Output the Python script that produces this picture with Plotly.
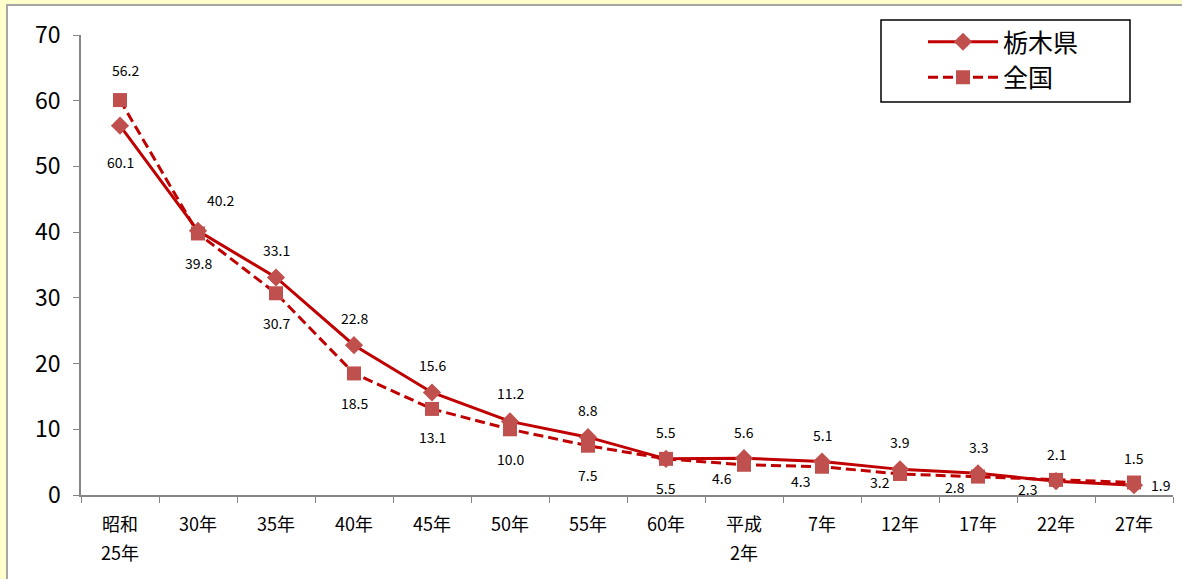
import plotly.graph_objects as go

# ---- data ----
categories = ["昭和<br>25年", "30年", "35年", "40年", "45年", "50年", "55年", "60年",
              "平成<br>2年", "7年", "12年", "17年", "22年", "27年"]
tochigi = [56.2, 40.2, 33.1, 22.8, 15.6, 11.2, 8.8, 5.5, 5.6, 5.1, 3.9, 3.3, 2.1, 1.5]
zenkoku = [60.1, 39.8, 30.7, 18.5, 13.1, 10.0, 7.5, 5.5, 4.6, 4.3, 3.2, 2.8, 2.3, 1.9]
series_names = ["栃木県", "全国"]
y_ticks = [0, 10, 20, 30, 40, 50, 60, 70]

# label offsets (px) relative to each point
t_dx = [5, 22, 0, 0, 0, 0, 0, 0, 0, 0, 0, 0, 0, 0]
t_dy = [56, 31, 27, 27, 27, 28, 27, 27, 26, 26, 27, 26, 27, 27]
z_dx = [0, 0, 0, 0, 0, 0, 0, 0, -22, -22, -20, -23, -29, 27]
z_dy = [-62, -30, -30, -30, -28, -30, -29, -29, -13, -14, -8, -10, -9, -2]

LINE = "#C00000"
MARK = "#C0504D"
AXIS = "#868686"
FONT = "Noto Sans CJK JP"

W, H = 1182, 579
ML, MR, MT, MB = 81, 9, 35, 84
PW, PH = W - ML - MR, H - MT - MB


def px2x(px):
    return (px - ML) / PW


def px2y(py):
    return (H - MB - py) / PH


fig = go.Figure()
fig.add_trace(go.Scatter(
    x=categories, y=tochigi, name=series_names[0], mode="lines+markers",
    line=dict(color=LINE, width=3),
    marker=dict(symbol="diamond", size=14, color=MARK),
    legendgroup="a",
))
fig.add_trace(go.Scatter(
    x=categories, y=zenkoku, name=series_names[1], mode="lines+markers",
    line=dict(color=LINE, width=3, dash="10px,5px"),
    marker=dict(symbol="square", size=14, color=MARK),
    legendgroup="b",
))

annotations = []
for i, c in enumerate(categories):
    annotations.append(dict(x=c, y=tochigi[i], text=f"{tochigi[i]:.1f}", showarrow=False,
                            xshift=t_dx[i], yshift=t_dy[i],
                            font=dict(size=14, color="#000000", family=FONT)))
    annotations.append(dict(x=c, y=zenkoku[i], text=f"{zenkoku[i]:.1f}", showarrow=False,
                            xshift=z_dx[i], yshift=z_dy[i],
                            font=dict(size=14, color="#000000", family=FONT)))
    # category labels (each line placed separately for Excel-like line spacing)
    for k, part in enumerate(c.split("<br>")):
        annotations.append(dict(x=c, xref="x", y=0, yref="paper", text=part,
                                showarrow=False, yanchor="middle", yshift=-28 - 29 * k,
                                font=dict(size=18, color="#000000", family=FONT)))

shapes = [
    # white chart area with grey frame over the yellow page
    dict(type="rect", xref="paper", yref="paper",
         x0=px2x(7), x1=px2x(W + 20), y0=px2y(H + 20), y1=px2y(5),
         fillcolor="white", line=dict(color="#A6A6A6", width=2), layer="below"),
    # legend frame
    dict(type="rect", xref="paper", yref="paper",
         x0=px2x(881), x1=px2x(1130), y0=px2y(102), y1=px2y(20),
         fillcolor="rgba(0,0,0,0)", line=dict(color="black", width=1.5), layer="above"),
]

fig.update_layout(
    width=W, height=H,
    margin=dict(l=ML, r=MR, t=MT, b=MB, autoexpand=False),
    paper_bgcolor="#FFFFCC",
    plot_bgcolor="rgba(0,0,0,0)",
    font=dict(family=FONT, color="black"),
    showlegend=True,
    legend=dict(x=px2x(923), y=px2y(19), xanchor="left", yanchor="top",
                bgcolor="rgba(0,0,0,0)", borderwidth=0,
                font=dict(size=25, family=FONT, color="black"),
                itemwidth=70, tracegroupgap=0),
    annotations=annotations,
    shapes=shapes,
)
fig.update_xaxes(type="category", range=[-0.5, len(categories) - 0.5],
                 tickson="boundaries", ticks="outside", ticklen=6,
                 tickcolor=AXIS, showline=True, linecolor=AXIS, linewidth=1.5,
                 showgrid=False, zeroline=False, showticklabels=False, automargin=False)
fig.update_yaxes(range=[0, 70], tickvals=y_ticks, ticks="outside", ticklen=6,
                 tickcolor=AXIS, showline=True, linecolor=AXIS, linewidth=1.5,
                 showgrid=False, zeroline=False, automargin=False, ticklabelstandoff=8,
                 tickfont=dict(size=23, family=FONT, color="black"))

fig.write_html("out.html", config={"displayModeBar": False},
               post_script="document.body.style.margin='0';")
